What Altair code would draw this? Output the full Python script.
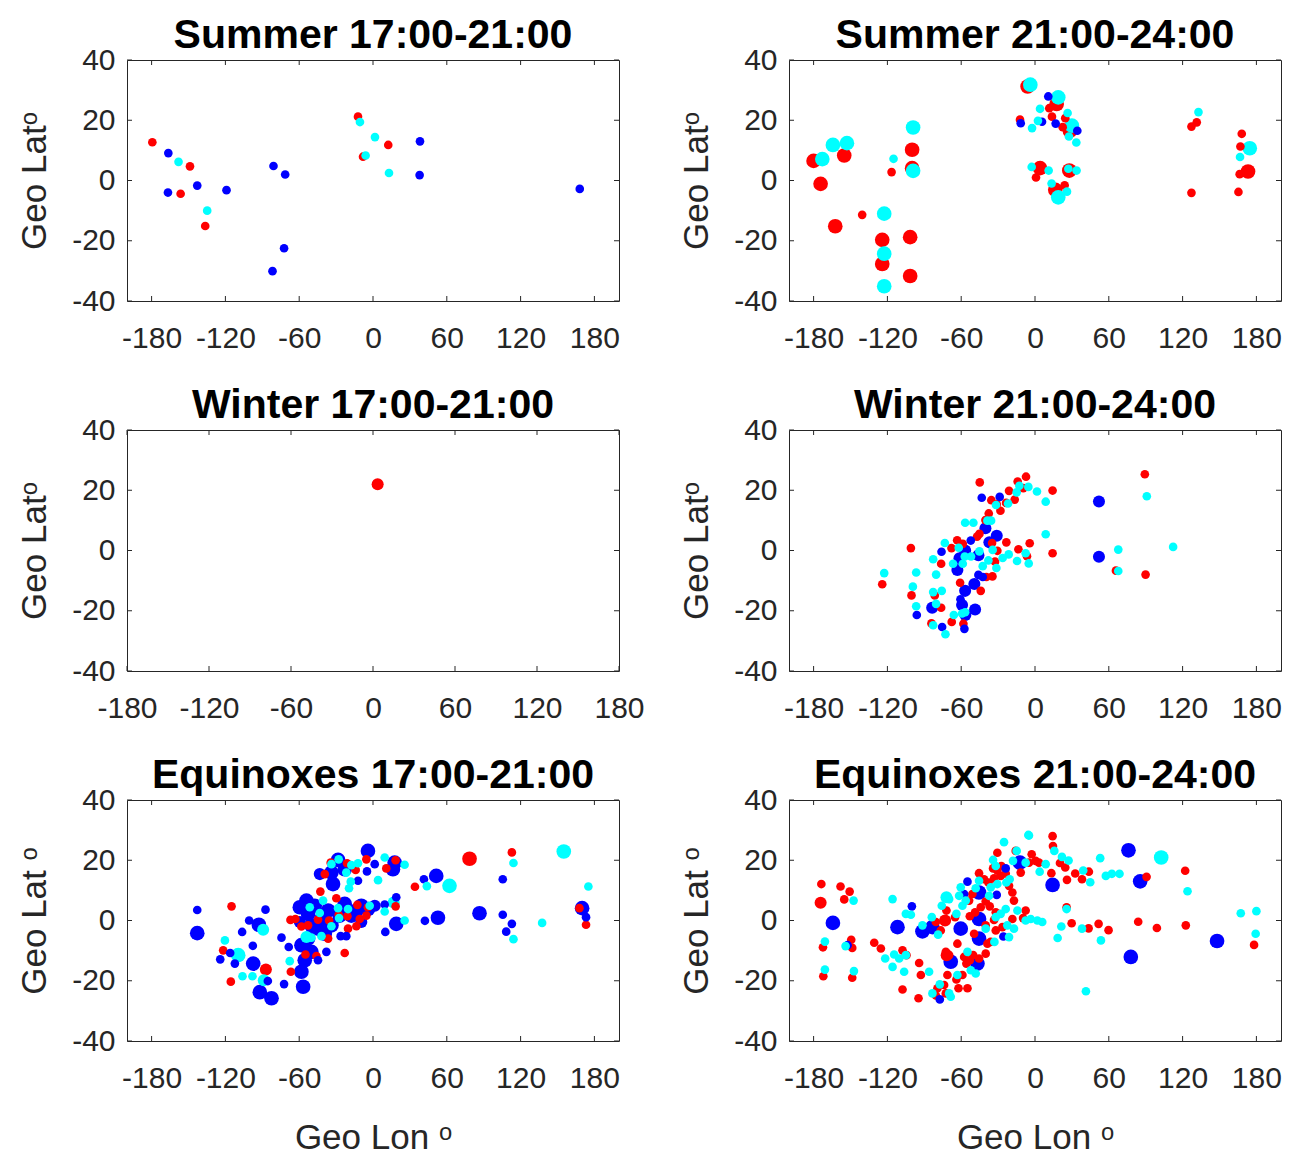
import altair as alt
import pandas as pd

# ---------------- data (lon, lat) ----------------
# Summer 17:00-21:00
SU1_RED_S = [(-179.4, 12.7), (-148.8, 4.7), (-156.4, -4.4), (-136.4, -15.1), (-12.2, 21.2), (-8.1, 7.9), (12.4, 11.8)]
SU1_BLUE_S = [(-166.4, 9.1), (-166.7, -4.0), (-142.9, -1.7), (-119.1, -3.2), (-80.9, 4.8), (-71.4, 2.0),
              (-72.3, -22.5), (-81.7, -30.1), (38.2, 13.0), (37.9, 1.8), (168.1, -2.8)]
SU1_CYAN_S = [(-158.1, 6.2), (-134.8, -10.0), (-10.6, 19.4), (-6.0, 8.3), (1.6, 14.4), (13.0, 2.5)]

# Summer 21:00-24:00
SU2_RED_L = [(-180.0, 6.5), (-174.3, -1.1), (-155.1, 8.3), (-162.4, -15.2), (-124.2, -19.7), (-124.2, -27.7),
             (-101.5, -18.8), (-101.5, -31.7), (-99.9, 10.2), (-99.9, 4.1), (-6.0, 31.2), (17.6, 25.4),
             (28.4, 16.5), (4.1, 4.1), (27.9, 3.3), (16.5, -3.1), (173.2, 3.0)]
SU2_CYAN_L = [(-172.9, 7.1), (-164.3, 11.8), (-152.9, 12.4), (-99.1, 17.6), (-99.1, 3.2), (-122.6, -11.0),
              (-122.6, -24.3), (-122.6, -35.1), (-3.8, 31.8), (18.9, 27.6), (30.0, 18.2), (18.9, -5.6), (174.6, 10.7)]
SU2_RED_S = [(-140.5, -11.4), (-116.6, 2.8), (-12.2, 20.2), (13.8, 21.2), (24.6, 20.7), (22.5, 17.7), (11.6, 24.0),
             (0.8, 1.0), (24.1, -1.6), (127.2, -4.1), (127.2, 17.9), (131.5, 19.3), (168.1, 15.5), (167.0, 11.3),
             (165.4, -3.8), (166.4, 2.1)]
SU2_CYAN_S = [(-115.0, 7.2), (4.1, 23.8), (-2.4, 17.4), (2.4, 19.8), (26.5, 22.4), (27.6, 14.6), (33.6, 12.6),
              (-2.7, 4.5), (11.1, 3.3), (27.1, 3.9), (33.8, 3.3), (13.5, -1.0), (26.0, -3.7), (132.9, 22.7), (166.7, 7.8)]
SU2_BLUE_S = [(10.8, 27.9), (-11.6, 19.0), (5.7, 19.5), (16.8, 18.9), (34.4, 16.5)]

# Winter 17:00-21:00
WI1_RED_M = [(3.4, 22.0)]

# Winter 21:00-24:00
WI2_RED_S = [(-44.9, 22.6), (-7.3, 24.5), (-14.1, 22.9), (-9.5, 20.7), (-21.1, 19.8), (14.3, 19.9), (89.3, 25.3),
             (-35.5, 16.7), (-31.1, 15.3), (-23.5, 15.8), (-16.5, 16.9), (-28.1, 13.2), (-37.6, 12.3), (-40.3, 10.1),
             (-45.2, 5.5), (-47.1, 4.6), (-63.3, 3.4), (-58.7, 2.2), (-67.9, 0.8), (-100.9, 0.8), (-23.3, 2.7),
             (-4.3, 2.4), (-13.5, 0.4), (-34.9, 2.5), (-30.6, -0.1), (-32.5, -3.7), (-6.5, -1.9), (14.3, -0.9),
             (-76.3, -4.4), (-124.2, -11.2), (-100.4, -14.9), (-81.5, -14.9), (-60.9, -10.7), (-44.1, -13.4),
             (-39.5, -8.8), (-34.6, -8.6), (-76.3, -19.0), (-84.2, -24.2), (-67.7, -23.7), (-58.2, -24.3),
             (65.8, -6.7), (89.9, -8.0)]
WI2_CYAN_S = [(-122.6, -7.5), (-96.6, -7.3), (-99.3, -12.0), (-96.6, -18.5), (-82.8, -13.8), (-75.8, -13.4),
              (-80.4, -8.0), (-82.8, -2.9), (-73.3, 2.5), (-62.0, 0.9), (-66.6, -4.4), (-58.7, -4.4), (-57.1, -2.0),
              (-52.0, -2.0), (-45.2, -0.3), (-56.8, 9.2), (-50.1, 9.2), (-38.7, 9.9), (-35.7, 9.9), (-31.7, 15.1),
              (-21.9, 15.6), (-14.9, 19.3), (-12.7, 21.5), (-5.4, 21.1), (1.6, 19.6), (8.7, 16.2), (-34.4, 0.2),
              (-37.9, -3.3), (-42.5, -5.2), (-31.4, -5.8), (-26.3, -2.5), (-21.4, -1.3), (-14.6, -3.5), (-5.1, -4.3),
              (-7.6, -0.9), (8.7, 5.4), (67.7, 0.3), (67.7, -6.8), (90.9, 18.0), (112.3, 1.2), (-82.8, -24.8),
              (-72.8, -27.8), (-66.0, -21.4), (-80.4, -17.7), (-59.3, -20.9), (-56.8, -20.5)]
WI2_BLUE_S = [(-43.3, 17.5), (-28.7, 17.8), (-52.2, 3.3), (-76.0, -0.4), (-96.1, -21.4), (-75.5, -25.4),
              (-57.4, -26.0), (-60.6, -16.2), (-46.0, -8.1), (-42.5, -8.8)]
WI2_BLUE_M = [(-40.3, 7.4), (-31.1, 4.9), (-37.1, 2.7), (-56.8, 0.0), (-61.4, -2.6), (-46.0, -1.6), (-63.1, -6.5),
              (-49.3, -11.1), (-56.8, -13.4), (-59.3, -18.1), (-56.6, -21.4), (-48.7, -19.6), (-83.6, -19.0),
              (52.0, 16.3), (52.0, -2.1)]

# Equinoxes 17:00-21:00
EQ1_BLUE_L = [(-142.9, -4.2), (-92.8, -1.4), (-92.0, -23.8), (-97.4, -14.3), (51.4, 14.8), (52.8, 0.9),
              (86.6, 2.4), (170.0, 4.1), (-4.1, 23.1), (-28.4, 20.1), (-32.5, 12.1), (16.2, 17.0), (18.9, -1.1),
              (-54.1, 6.6), (-52.8, 2.2), (-41.9, 0.5), (-44.7, -2.7), (-23.0, 5.5), (-27.1, 1.6), (-4.1, 3.8),
              (-58.2, -8.2), (-50.1, -10.4), (-58.2, -17.0), (-56.8, -22.0), (-82.5, -25.8),
              (-59.5, 4.4), (-47.4, 4.9), (-36.5, 3.3), (-33.8, -1.6), (-17.6, 1.6), (-13.5, 3.3), (-9.5, 4.9),
              (-50.1, -1.6), (-39.2, -4.4), (-33.8, 15.9), (-23.0, 17.0), (17.6, 19.2), (-52.8, -6.0),
              (-55.5, -13.2)]
EQ1_BLUE_M = [(-43.3, 15.4), (1.4, 4.9), (-9.5, -0.5), (-59.5, -0.5)]
EQ1_BLUE_S = [(-142.9, 3.5), (-87.4, 3.6), (-100.7, 0.0), (-106.4, -3.8), (-97.7, -8.4), (-124.2, -12.9),
              (-116.1, -10.8), (-112.3, -14.3), (41.4, 13.7), (42.2, -0.1), (105.5, 13.7), (105.5, 1.9),
              (112.9, -1.1), (108.3, -3.7), (173.2, 1.1), (-85.5, -20.1), (-74.4, -5.7), (-68.5, -8.8),
              (-72.3, -21.1), (-12.2, 13.2), (-4.9, 16.3), (1.4, 18.7), (9.5, 5.3), (18.9, 7.7), (10.0, -3.8),
              (-37.9, -10.4), (-44.7, -13.2), (-21.7, -5.2), (-26.3, -5.2)]
EQ1_RED_L = [(78.5, 20.5)]
EQ1_RED_M = [(-87.1, -16.3)]
EQ1_RED_S = [(-115.0, 4.7), (-121.8, -9.9), (-115.6, -20.3), (34.1, 11.2), (112.9, 22.6), (167.8, 4.1),
             (173.2, -1.4), (-34.4, 19.2), (-21.1, 19.0), (-14.1, 16.8), (-39.2, 15.4), (-5.4, 20.3), (18.4, 20.0),
             (10.8, 17.3), (-42.8, 9.6), (-29.8, 7.4), (-12.7, 5.2), (-4.1, 4.4), (18.4, 4.7), (-67.1, 0.2),
             (-63.1, 0.5), (-44.7, 0.3), (-35.7, 0.0), (-27.9, 1.9), (-20.8, 1.4), (-10.8, 0.5), (-5.4, 1.6),
             (-58.2, -2.0), (-52.8, -1.6), (-20.3, -2.7), (-13.5, -1.9), (-36.5, -6.0), (-54.9, -11.3),
             (-46.0, -11.8), (-23.0, -10.8), (-66.8, -17.0)]
EQ1_CYAN_L = [(-109.6, -11.5), (62.2, 11.5), (155.1, 22.9)]
EQ1_CYAN_M = [(-89.3, -3.1), (-88.8, -19.8), (-54.1, -5.5), (16.8, 6.0)]
EQ1_CYAN_S = [(-120.4, -6.6), (-106.1, -18.5), (-98.0, -18.5), (43.8, 11.4), (114.2, 19.1), (114.2, -6.2),
              (137.5, -0.8), (175.1, 11.3), (-33.8, 18.7), (-27.9, 20.3), (-17.6, 18.4), (-12.2, 19.0),
              (-21.7, 15.9), (-18.1, 12.9), (-19.5, 10.7), (4.1, 13.4), (9.5, 20.9), (25.7, 18.5), (-40.6, 6.6),
              (-51.4, 4.4), (-43.3, 2.5), (-28.4, 4.1), (-20.3, 3.8), (-33.8, -1.9), (-27.6, 0.8), (-41.9, -5.2),
              (-50.1, -5.7), (-67.7, -13.5), (9.5, 3.0), (25.7, 0.0), (-2.7, 4.9)]

# Equinoxes 21:00-24:00
EQ2_BLUE_L = [(-164.3, -0.8), (14.3, 11.8), (76.0, 23.3), (85.5, 13.0), (77.9, -12.1), (148.0, -6.8),
              (-111.8, -2.2), (-91.5, -3.6), (-83.4, -2.2), (-60.4, -2.7), (-45.5, 9.3), (-45.5, 0.5),
              (-45.5, -6.0), (-68.5, -13.7), (-46.8, -14.3), (-12.2, 19.2)]
EQ2_BLUE_S = [(-152.4, -8.2), (-100.1, 4.7), (-54.9, 12.9), (-57.6, 8.8), (-31.1, 8.5), (-25.7, -5.3),
              (-77.4, -26.2), (-23.8, 17.3)]
EQ2_RED_M = [(-174.3, 5.9), (-73.1, 0.0), (-71.8, -11.5)]
EQ2_RED_S = [(-173.7, 12.1), (-158.1, 11.3), (-150.7, 9.6), (-155.1, 7.0), (-149.4, -6.4), (-148.6, -9.1),
             (-172.4, -8.9), (-172.1, -18.5), (-148.6, -19.0), (14.3, 28.0), (14.6, 24.7), (24.6, 17.6),
             (20.3, 19.1), (32.7, 15.6), (38.2, 13.7), (43.8, 16.2), (26.0, 13.5), (25.7, 4.4), (29.8, -0.9),
             (43.6, -2.6), (51.7, -1.1), (59.8, -3.2), (83.9, -0.4), (99.1, -2.5), (122.1, 16.5), (122.6, -1.6),
             (178.1, -8.1), (90.7, 14.5), (13.3, 15.7),
             (-130.7, -7.4), (-125.3, -9.3), (-107.7, -9.9), (-104.5, -11.5), (-94.2, -14.1), (-92.8, -18.1),
             (-107.7, -22.9), (-94.7, -25.8), (-79.3, -22.5), (-63.9, -19.6), (-59.0, -18.1), (-55.8, -14.3),
             (-72.0, 3.3), (-80.6, -0.5), (-76.6, -3.3), (-65.0, 1.1), (-53.0, 1.4), (-48.7, 2.7), (-44.1, 4.4),
             (-40.1, 6.3), (-36.8, 4.7), (-53.6, 6.6), (-50.9, 8.8), (-37.9, 12.6), (-33.3, 14.0), (-41.4, 13.7),
             (-45.5, 15.7), (-34.1, 17.3), (-30.6, 16.5), (-27.3, 18.1), (-27.9, 14.8), (-23.8, 15.6),
             (-21.1, 11.5), (-18.4, 9.3), (-17.1, 6.6), (-11.6, 15.9), (-2.7, 22.0), (0.5, 19.8), (3.2, 19.2),
             (-15.7, 23.1), (-4.9, 19.2), (-30.6, 22.5), (-69.8, -11.5), (-72.5, -10.4), (-73.9, -21.4),
             (-71.2, -18.1), (-62.2, -22.5), (-80.6, -24.9), (-72.5, -24.2), (-54.9, -22.5), (-53.0, -13.2),
             (-50.3, -11.5), (-40.1, -11.0), (-36.0, -7.1), (-31.9, -3.3), (-26.5, -2.2), (-18.4, 0.5),
             (-9.7, 0.8), (-7.6, 3.3), (-31.9, 2.7), (-33.3, 0.2), (-40.1, -1.6), (-49.5, -4.4), (-63.1, -7.7),
             (-38.7, -7.7), (-45.5, -12.6), (-57.6, -12.1)]
EQ2_CYAN_L = [(102.6, 20.9)]
EQ2_CYAN_M = [(-72.0, 7.7)]
EQ2_CYAN_S = [(-147.5, 6.6), (-170.8, -7.0), (-154.0, -8.5), (-170.8, -16.3), (-147.2, -16.8), (-5.4, 28.4),
              (15.7, 23.1), (21.9, 21.1), (27.3, 19.9), (39.2, 16.6), (44.9, 12.7), (53.0, 20.7), (57.6, 14.8),
              (62.5, 15.5), (68.7, 15.5), (25.7, 3.8), (21.4, -2.0), (18.4, -5.8), (38.2, -2.7), (53.6, -6.6),
              (41.4, -23.5), (167.3, 2.4), (180.0, 3.1), (179.4, -4.4), (124.0, 9.7),
              (-4.9, 28.2), (-25.2, 26.0), (-14.9, 23.1), (8.7, 18.7), (3.8, 16.2), (-7.6, 19.2), (-17.9, 19.8),
              (-34.1, 20.1), (-31.9, 18.1), (-20.6, 13.7), (-23.3, 12.6), (-30.6, 12.1), (-36.0, 11.0),
              (-37.3, 8.2), (-45.5, 13.2), (-48.2, 10.7), (-60.4, 11.0), (-61.7, 8.2), (-56.3, 6.6), (-69.8, 7.1),
              (-59.0, 4.9), (-75.8, 4.9), (-63.9, 2.2), (-78.8, -4.7), (-83.9, 1.1), (-91.5, -1.6), (-105.0, 2.2),
              (-100.9, 1.9), (-115.8, 7.1), (-121.8, -12.6), (-114.5, -11.3), (-110.4, -12.6), (-105.0, -11.5),
              (-115.8, -15.4), (-106.4, -17.0), (-86.1, -17.0), (-83.4, -24.2), (-77.4, -21.2), (-69.8, -24.2),
              (-68.5, -25.3), (-63.1, -18.1), (-54.9, -10.4), (-52.2, -16.5), (-48.2, -17.6), (-40.1, -2.7),
              (-31.9, 1.1), (-27.9, 2.2), (-23.8, 3.8), (-22.5, -1.6), (-17.1, -2.7), (-21.1, -5.5), (-14.3, 3.3),
              (-7.6, 0.0), (-3.5, 0.5), (1.9, 0.0), (5.9, -0.5), (-33.0, -7.1)]

X_TICKS = [-180, -120, -60, 0, 60, 120, 180]
Y_TICKS = [-40, -20, 0, 20, 40]

PANELS = [
    ("Summer 17:00-21:00", [-200, 200], "Geo Latᵒ", None,
     [("red", "s", SU1_RED_S), ("blue", "s", SU1_BLUE_S), ("cyan", "s", SU1_CYAN_S)]),
    ("Summer 21:00-24:00", [-200, 200], "Geo Latᵒ", None,
     [("red", "l", SU2_RED_L), ("cyan", "l", SU2_CYAN_L), ("red", "s", SU2_RED_S),
      ("blue", "s", SU2_BLUE_S), ("cyan", "s", SU2_CYAN_S)]),
    ("Winter 17:00-21:00", [-180, 180], "Geo Latᵒ", None,
     [("red", "m", WI1_RED_M)]),
    ("Winter 21:00-24:00", [-200, 200], "Geo Latᵒ", None,
     [("blue", "m", WI2_BLUE_M), ("red", "s", WI2_RED_S), ("blue", "s", WI2_BLUE_S), ("cyan", "s", WI2_CYAN_S)]),
    ("Equinoxes 17:00-21:00", [-200, 200], "Geo Lat ᵒ", "Geo Lon ᵒ",
     [("red", "l", EQ1_RED_L), ("blue", "l", EQ1_BLUE_L), ("cyan", "l", EQ1_CYAN_L),
      ("red", "m", EQ1_RED_M), ("blue", "m", EQ1_BLUE_M), ("cyan", "m", EQ1_CYAN_M),
      ("red", "s", EQ1_RED_S), ("blue", "s", EQ1_BLUE_S), ("cyan", "s", EQ1_CYAN_S)]),
    ("Equinoxes 21:00-24:00", [-200, 200], "Geo Lat ᵒ", "Geo Lon ᵒ",
     [("blue", "l", EQ2_BLUE_L), ("cyan", "l", EQ2_CYAN_L),
      ("red", "m", EQ2_RED_M), ("cyan", "m", EQ2_CYAN_M),
      ("red", "s", EQ2_RED_S), ("blue", "s", EQ2_BLUE_S), ("cyan", "s", EQ2_CYAN_S)]),
]

W, H = 492, 241
FONT = "Liberation Sans"
AX = "#262626"
SIZE_RANK = {"l": 0, "m": 1, "s": 2}
COLOR_RANK = {"red": 0, "blue": 1, "cyan": 2}

color_scale = alt.Scale(domain=["red", "blue", "cyan"], range=["#ff0000", "#0000ff", "#00ffff"])
size_scale = alt.Scale(domain=["s", "m", "l"], range=[75, 215, 480])

xt = pd.DataFrame({"lon": X_TICKS})
yt = pd.DataFrame({"lat": Y_TICKS})


def make_panel(title, xdom, ylab, xlab, series):
    rows = []
    for color, cls, pts in series:
        for lon, lat in pts:
            rows.append({"lon": lon, "lat": lat, "c": color, "cls": cls,
                         "ord": SIZE_RANK[cls] * 3 + COLOR_RANK[color]})
    df = pd.DataFrame(rows)
    df["ord"] = df["ord"] * 10000 + range(len(df))

    common = dict(labelOverlap=False, labelFlush=False, ticks=False, tickSize=0, domain=False, grid=False,
                  labelFont=FONT, labelFontSize=30, labelColor=AX, labelExpr="datum.value + ''",
                  titleFont=FONT, titleFontSize=35, titleFontWeight="normal", titleColor=AX)
    xaxis = alt.Axis(values=X_TICKS, title=xlab if xlab else None, labelPadding=22, titlePadding=27, **common)
    yaxis = alt.Axis(values=Y_TICKS, title=ylab, labelPadding=12, titlePadding=19, **common)
    xs = alt.Scale(domain=xdom, nice=False, zero=False)
    ys = alt.Scale(domain=[-40, 40], nice=False, zero=False)

    pts = alt.Chart(df).mark_circle(opacity=1, strokeWidth=0).encode(
        x=alt.X("lon:Q", scale=xs, axis=xaxis),
        y=alt.Y("lat:Q", scale=ys, axis=yaxis),
        color=alt.Color("c:N", scale=color_scale, legend=None),
        size=alt.Size("cls:N", scale=size_scale, legend=None),
        order=alt.Order("ord:Q"),
    )
    tb = alt.Chart(xt).mark_rule(color=AX, strokeWidth=1).encode(
        x=alt.X("lon:Q", scale=xs, axis=xaxis), y=alt.value(H), y2=alt.value(H - 5))
    tt = alt.Chart(xt).mark_rule(color=AX, strokeWidth=1).encode(
        x=alt.X("lon:Q", scale=xs, axis=xaxis), y=alt.value(0), y2=alt.value(5))
    tl = alt.Chart(yt).mark_rule(color=AX, strokeWidth=1).encode(
        y=alt.Y("lat:Q", scale=ys, axis=yaxis), x=alt.value(0), x2=alt.value(5))
    tr = alt.Chart(yt).mark_rule(color=AX, strokeWidth=1).encode(
        y=alt.Y("lat:Q", scale=ys, axis=yaxis), x=alt.value(W), x2=alt.value(W - 5))
    return alt.layer(tb, tt, tl, tr, pts).properties(
        width=W, height=H,
        title=alt.TitleParams(title, fontSize=41, font=FONT, fontWeight="bold", color="#000000",
                              offset=-12, frame="group"),
    )


charts = [make_panel(*p) for p in PANELS]

chart = alt.concat(*charts, columns=2, spacing=alt.RowColnumber(row=129, column=170), bounds="flush").properties(
    padding={"left": 17, "top": 14, "right": 5, "bottom": 2},
    background="white",
).configure_view(
    stroke=AX, strokeWidth=1
)

chart.save("out.html", embed_options={"renderer": "svg", "actions": False})
